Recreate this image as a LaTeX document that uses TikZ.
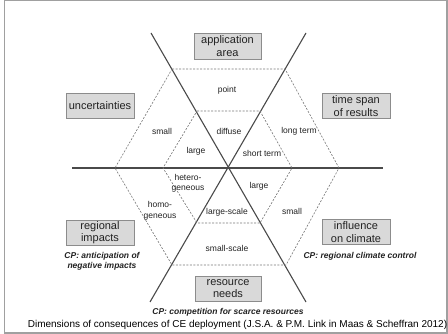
\documentclass[tikz,border=0pt]{standalone}
\usepackage{fontspec}
\setmainfont{Liberation Sans}
\begin{document}
\begin{tikzpicture}[x=1pt,y=-1pt,
  box/.style={draw=boxline,fill=boxfill,line width=0.8pt,minimum width=68pt,minimum height=25pt,inner sep=0pt,align=center,font=\fontsize{11}{12.5}\selectfont,text=txt},
  lbl/.style={inner sep=0pt,align=center,font=\fontsize{8.5}{10.5}\selectfont,text=txt},
  cp/.style={inner sep=0pt,align=center,font=\fontsize{8.5}{10}\selectfont\bfseries\itshape,text=txt},
  axis/.style={draw=axiscol,line width=1.1pt},
  hex/.style={draw=dashcol,line width=0.6pt,dash pattern=on 2pt off 1.5pt}]
\definecolor{boxfill}{HTML}{D9D9D9}
\definecolor{boxline}{HTML}{8C8C8C}
\definecolor{axiscol}{HTML}{4A4A4A}
\definecolor{dashcol}{HTML}{777777}
\definecolor{txt}{HTML}{222222}
\definecolor{framecol}{HTML}{A0A0A0}
\useasboundingbox (0,0) rectangle (448,334);
\fill[white] (0,0) rectangle (448,334);
\draw[framecol,line width=1.5pt] (4.5,0.75) rectangle (447,333);
% axes
\coordinate (a1) at (151,33); \coordinate (a2) at (306,302);
\coordinate (b1) at (306,33); \coordinate (b2) at (150,302);
\coordinate (h1) at (72,168); \coordinate (h2) at (383,168);
\draw[axis] (a1) -- (a2);
\draw[axis] (b1) -- (b2);
\draw[axis] (h1) -- (h2);
% hexagons
\coordinate (o1) at (172,69); \coordinate (o2) at (285,69); \coordinate (o3) at (339,168);
\coordinate (o4) at (286,265); \coordinate (o5) at (172,265); \coordinate (o6) at (115,168);
\draw[hex] (o1) -- (o2) -- (o3) -- (o4) -- (o5) -- (o6) -- cycle;
\coordinate (i1) at (197,111); \coordinate (i2) at (260,111); \coordinate (i3) at (292,168);
\coordinate (i4) at (260,223); \coordinate (i5) at (197,223); \coordinate (i6) at (163,168);
\draw[hex] (i1) -- (i2) -- (i3) -- (i4) -- (i5) -- (i6) -- cycle;
% boxes
\node[box,minimum width=67pt,minimum height=26pt] (app) at (227.5,46) {application\\area};
\node[box] (unc) at (100,106) {uncertainties};
\node[box] (time) at (356,106) {time span\\of results};
\node[box] (reg) at (100,232.5) {regional\\impacts};
\node[box] (inf) at (356,232) {influence\\on climate};
\node[box,minimum width=66pt] (res) at (228,288.5) {resource\\needs};
% sector labels
\node[lbl] (point) at (227,90) {point};
\node[lbl] (diffuse) at (229,131) {diffuse};
\node[lbl] (large1) at (196,151) {large};
\node[lbl] (small1) at (162,131) {small};
\node[lbl] (long) at (299,131) {long term};
\node[lbl] (short) at (262,153) {short term};
\node[lbl] (het) at (188,183.5) {hetero-\\geneous};
\node[lbl] (hom) at (160,211) {homo-\\geneous};
\node[lbl] (lscale) at (227,212) {large-scale};
\node[lbl] (sscale) at (227,248) {small-scale};
\node[lbl] (large2) at (259,186) {large};
\node[lbl] (small2) at (292,211) {small};
% CP texts
\node[cp] (cp1) at (102,261) {CP: anticipation of\\negative impacts};
\node[cp] (cp2) at (360,256) {CP: regional climate control};
\node[cp] (cp3) at (228,312) {CP: competition for scarce resources};
% caption
\node[inner sep=0pt,font=\fontsize{10}{12}\selectfont,text=black] (cap) at (237.5,324.5) {Dimensions of consequences of CE deployment (J.S.A. \& P.M. Link in Maas \& Scheffran 2012)};
\end{tikzpicture}
\end{document}
